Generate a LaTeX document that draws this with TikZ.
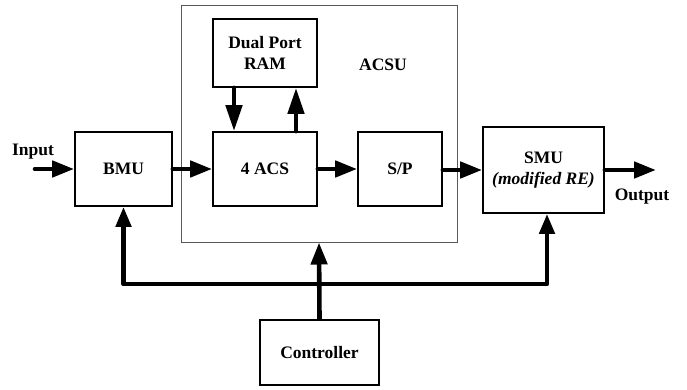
\documentclass[tikz,border=0pt]{standalone}
\usepackage{fontspec}
\setmainfont{Liberation Serif}
\usetikzlibrary{arrows.meta}
\begin{document}
\begin{tikzpicture}[x=1pt,y=-1pt,
  blk/.style={draw=black,line width=1.7pt,inner sep=0pt,font=\fontsize{17.5}{19.5}\selectfont\bfseries,align=center},
  grp/.style={draw=black!65,line width=1pt,inner sep=0pt},
  lbl/.style={inner sep=0pt,font=\fontsize{17.5}{19.5}\selectfont\bfseries},
  sig/.style={line width=4.6pt,line cap=round,line join=round,-{Triangle[length=22pt,width=16pt]}},
  ramsig/.style={sig,-{Triangle[length=26pt,width=16pt]}},
  bus/.style={line width=4.6pt,line join=round,{Triangle[length=20pt,width=15pt]}-{Triangle[length=20pt,width=15pt]}}]
\useasboundingbox (0,0) rectangle (687,390);
\node[grp,minimum width=276pt,minimum height=236pt] (acsu) at (319,124) {};
\node[lbl] (acsulbl) at (383,65) {ACSU};
\node[blk,minimum width=97pt,minimum height=74pt] (bmu) at (123.5,169) {BMU};
\node[blk,minimum width=104pt,minimum height=74pt] (acs) at (265,169) {4 ACS};
\node[blk,minimum width=84pt,minimum height=74pt] (sp) at (400,169) {S/P};
\node[blk,minimum width=121pt,minimum height=86pt] (smu) at (543.5,170) {SMU\\[2pt]\itshape(modified RE)};
\node[blk,minimum width=104pt,minimum height=68pt] (ram) at (265,53) {Dual Port\\[2pt]RAM};
\node[blk,minimum width=119pt,minimum height=65pt] (ctrl) at (319.5,352.5) {Controller};
\node[lbl] (inlbl) at (33,152) {Input};
\node[lbl] (outlbl) at (642,197) {Output};
\coordinate (in) at (35,169);
\coordinate (out) at (656,170);
\draw[sig] (in) -- (bmu.west);
\draw[sig] (bmu.east) -- (acs.west);
\draw[sig] (acs.east) -- (sp.west);
\draw[sig] (sp.east |- smu.west) -- (smu.west);
\draw[sig] (smu.east) -- (out);
\draw[ramsig] ([xshift=-31pt]ram.south) -- ([xshift=-31pt]acs.north);
\draw[ramsig] ([xshift=31pt]acs.north) -- ([xshift=31pt]ram.south);
\coordinate (busl) at (123.5,284);
\coordinate (busr) at (547,284);
\draw[bus] (bmu.south) -- (busl) -- (busr) -- (busr |- smu.south);
\draw[sig,line cap=butt] (ctrl.north) -- (acsu.south);
\end{tikzpicture}
\end{document}
